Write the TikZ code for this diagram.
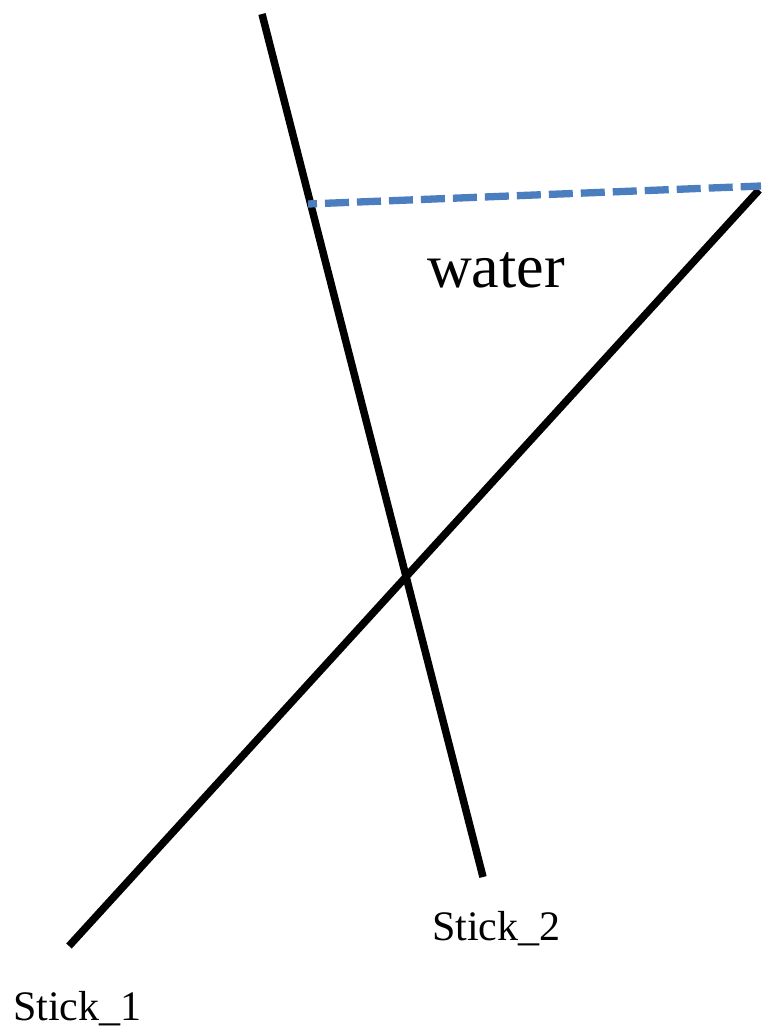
\documentclass[tikz,border=0pt]{standalone}
\usepackage{fontspec}
\setmainfont{Liberation Serif}
\definecolor{waterblue}{HTML}{4A7EBF}
\begin{document}
\begin{tikzpicture}[x=1pt,y=-1pt,
  stick/.style={line width=7.5pt,black},
  surface/.style={line width=7.3pt,waterblue,dash pattern=on 24pt off 8pt,dash phase=15pt},
  lbl/.style={inner sep=0pt,anchor=base west,font=\fontsize{42}{48}\selectfont},
  big/.style={inner sep=0pt,anchor=base west,font=\fontsize{62}{70}\selectfont}]
\useasboundingbox (0,0) rectangle (761,1030);
\coordinate (s2top) at (262,14);
\coordinate (s2bot) at (483,877);
\coordinate (s1bot) at (69,946);
\coordinate (s1top) at (759,190);
\coordinate (wl) at (308,204);
\coordinate (wr) at (761,186);
\draw[stick] (s2top) -- (s2bot);
\draw[stick] (s1bot) -- (s1top);
\draw[surface] (wl) -- (wr);
\node[big] (water) at (427,287) {water};
\node[lbl] (lab2) at (432,940) {Stick\_2};
\node[lbl] (lab1) at (13,1020) {Stick\_1};
\end{tikzpicture}
\end{document}
